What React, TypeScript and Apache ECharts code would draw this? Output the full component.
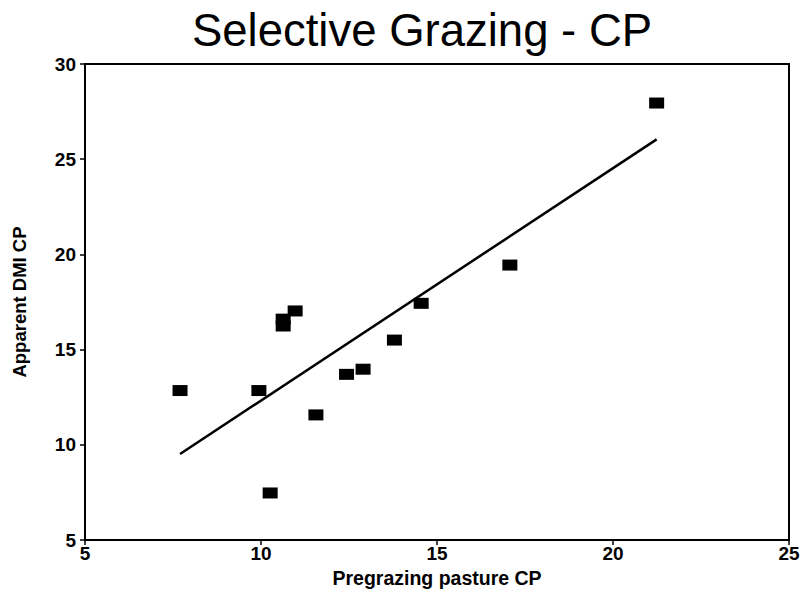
import React, { useEffect, useRef } from "react";
import * as echarts from "echarts";

const pastureCP = [7.7, 9.94, 10.26, 10.63, 10.63, 10.97, 11.56, 12.43, 12.9, 13.79, 14.55, 17.07, 21.24];
const dmiCP = [12.85, 12.85, 7.47, 16.6, 16.24, 17.03, 11.57, 13.7, 13.97, 15.5, 17.43, 19.44, 27.95];
const fitX = [7.7, 21.24];
const fitY = [9.52, 26.04];
const xTicks = [5, 10, 15, 20, 25];
const yTicks = [5, 10, 15, 20, 25, 30];

export default function App() {
  const ref = useRef<HTMLDivElement>(null);
  useEffect(() => {
    if (!ref.current) return;
    const chart = echarts.init(ref.current, undefined, { renderer: "svg" });
    const font = "Liberation Sans, Arial, sans-serif";
    chart.setOption({
      animation: false,
      backgroundColor: "#ffffff",
      title: {
        text: "Selective Grazing - CP",
        left: 417,
        top: 2,
        textAlign: "center",
        textStyle: { fontFamily: font, fontSize: 45.5, fontWeight: "normal", color: "#000" },
      },
      grid: {
        left: 85,
        top: 64,
        right: 15,
        bottom: 53,
        show: true,
        borderColor: "#000",
        borderWidth: 2,
        backgroundColor: "transparent",
      },
      xAxis: {
        type: "value",
        min: xTicks[0],
        max: xTicks[xTicks.length - 1],
        interval: 5,
        name: "Pregrazing pasture CP",
        nameLocation: "middle",
        nameGap: 27,
        nameTextStyle: { fontFamily: font, fontSize: 19.5, fontWeight: "bold", color: "#000" },
        axisLine: { show: true, lineStyle: { color: "#000", width: 2 } },
        axisTick: { show: true, length: 5, lineStyle: { color: "#000", width: 1.5 } },
        axisLabel: { fontFamily: font, fontSize: 19, fontWeight: "bold", color: "#000", margin: 4 },
        splitLine: { show: false },
      },
      yAxis: {
        type: "value",
        min: yTicks[0],
        max: yTicks[yTicks.length - 1],
        interval: 5,
        name: "Apparent DMI CP",
        nameLocation: "middle",
        nameGap: 56,
        nameTextStyle: { fontFamily: font, fontSize: 18.5, fontWeight: "bold", color: "#000" },
        axisLine: { show: true, lineStyle: { color: "#000", width: 2 } },
        axisTick: { show: true, length: 5, lineStyle: { color: "#000", width: 1.5 } },
        axisLabel: { fontFamily: font, fontSize: 19, fontWeight: "bold", color: "#000", margin: 9 },
        splitLine: { show: false },
      },
      series: [
        {
          type: "line",
          data: fitX.map((x, i) => [x, fitY[i]]),
          showSymbol: false,
          symbol: "none",
          lineStyle: { color: "#000", width: 2.5 },
          silent: true,
        },
        {
          type: "scatter",
          data: pastureCP.map((x, i) => [x, dmiCP[i]]),
          symbol: "rect",
          symbolSize: [15, 11],
          itemStyle: { color: "#000", opacity: 1 },
        },
      ],
    });
    return () => chart.dispose();
  }, []);
  return <div ref={ref} style={{ width: 804, height: 593, position: "absolute", left: 0, top: 0 }} />;
}
